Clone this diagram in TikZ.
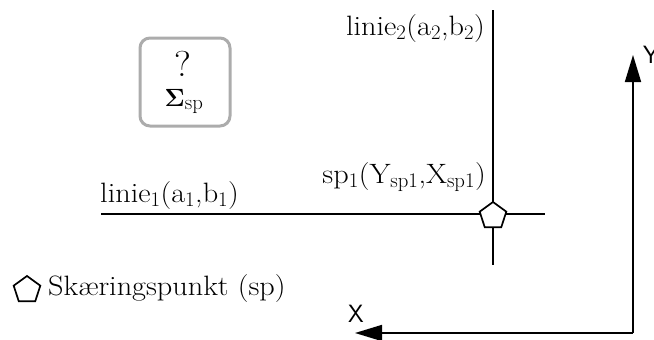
\documentclass[tikz,border=0pt]{standalone}
\usepackage[no-math]{fontspec}
\setmainfont{Latin Modern Roman}[FakeStretch=1.08]
\usetikzlibrary{shapes.geometric,arrows.meta}
\DeclareMathSizes{28}{28}{21}{16}
\DeclareMathSizes{26}{26}{20}{15}
\begin{document}
\begin{tikzpicture}[x=1pt,y=-1pt,
  lbl/.style={font=\fontsize{28}{32}\selectfont,inner sep=0pt},
  axlbl/.style={font=\sffamily\fontsize{25}{30}\selectfont,inner sep=0pt},
  ln/.style={line width=1.7pt},
  penta/.style={draw,regular polygon,regular polygon sides=5,minimum size=28pt,inner sep=0pt,line width=1.7pt,fill=white},
  axis/.style={line width=1.7pt,-{Triangle[length=27pt,width=16pt]}}]
\useasboundingbox (0,0) rectangle (654,340);
% box
\node[draw=gray!65,line width=3pt,rounded corners=10pt,minimum width=90pt,minimum height=88pt] (box) at (185,82) {};
\node[font=\fontsize{36}{40}\selectfont,inner sep=0pt] (q) at (183,64) {?};
\node[font=\fontsize{26}{30}\selectfont,inner sep=0pt,anchor=base] (sig) at (184,106) {$\mathbf{\Sigma}_{\mathrm{sp}}$};
% lines
\coordinate (v1) at (493,10);
\coordinate (v2) at (493,265);
\coordinate (h1) at (101,214);
\coordinate (h2) at (545,214);
\draw[ln] (v1) -- (v2);
\draw[ln] (h1) -- (h2);
\node[penta] (sp) at (493,216) {};
% labels
\node[lbl,anchor=base east] (l2) at (485,35) {linie$_2$(a$_2$,b$_2$)};
\node[lbl,anchor=base west] (l1) at (100,202) {linie$_1$(a$_1$,b$_1$)};
\node[lbl,anchor=base east] (sl) at (486,183) {sp$_1$(Y$_{\mathrm{sp1}}$,X$_{\mathrm{sp1}}$)};
% legend
\node[penta] (lp) at (27,290) {};
\node[lbl,anchor=west] (lt) at (48,289) {Skæringspunkt (sp)};
% axes
\coordinate (o) at (633,333);
\coordinate (ytip) at (633,55);
\coordinate (xtip) at (355,333);
\draw[axis] (o) -- (ytip);
\draw[axis] (o) -- (xtip);
\node[axlbl,anchor=west] (yl) at (643,55) {Y};
\node[axlbl] (xl) at (356,314) {X};
\end{tikzpicture}
\end{document}
